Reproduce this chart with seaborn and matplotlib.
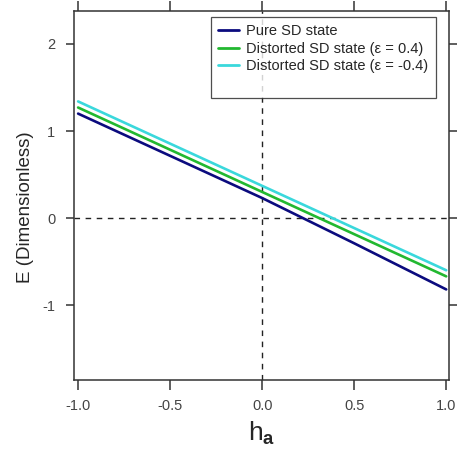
import numpy as np
import pandas as pd
import matplotlib
matplotlib.use("Agg")
import matplotlib.pyplot as plt
import seaborn as sns
from matplotlib.lines import Line2D

# Data
h_a = [-1.0, -0.5, 0.0, 0.5, 1.0]
pure = [1.20, 0.715, 0.23, -0.29, -0.82]
dist_pos = [1.27, 0.785, 0.30, -0.185, -0.67]
dist_neg = [1.34, 0.855, 0.37, -0.115, -0.60]
labels = ["Pure SD state", "Distorted SD state (ε = 0.4)", "Distorted SD state (ε = -0.4)"]
colors = ["#0b0b7e", "#22b830", "#3ad8dc"]
xticks = [-1.0, -0.5, 0.0, 0.5, 1.0]
yticks = [-1, 0, 1, 2]

df = pd.concat([
    pd.DataFrame({"h": h_a, "E": vals, "state": lab})
    for vals, lab in zip([pure, dist_pos, dist_neg], labels)
])

sns.set_style("white")
plt.rcParams["font.family"] = ["Liberation Sans", "DejaVu Sans"]
plt.rcParams["mathtext.fontset"] = "custom"
plt.rcParams["mathtext.rm"] = "Liberation Sans"
plt.rcParams["mathtext.bf"] = "Liberation Sans:bold"

fig = plt.figure(figsize=(4.6, 4.55), dpi=100)
ax = fig.add_axes([0.161, 0.165, 0.815, 0.811])

ax.axhline(0, color="#222222", lw=1.0, ls=(0, (4, 4)), zorder=1)
ax.axvline(0, color="#222222", lw=1.0, ls=(0, (4, 4)), zorder=1)

sns.lineplot(data=df, x="h", y="E", hue="state", palette=colors,
             linewidth=1.9, ax=ax, legend=False, zorder=3)

ax.set_xlim(-1.022, 1.015)
ax.set_ylim(-1.86, 2.38)
ax.set_xticks(xticks)
ax.set_xticklabels([f"{t:.1f}" for t in xticks])
ax.set_yticks(yticks)
ax.set_yticklabels([str(t) for t in yticks])

for s in ax.spines.values():
    s.set_color("#333333")
    s.set_linewidth(1.1)

ax.tick_params(axis="x", which="both", direction="out", length=7.5, width=1.1,
               color="#333333", top=True, bottom=True, labeltop=False,
               labelsize=10.5, labelcolor="#444444", pad=6)
ax.tick_params(axis="y", which="both", direction="out", length=5.5, width=1.1,
               color="#333333", left=True, right=True, labelright=False,
               labelsize=10.5, labelcolor="#444444", pad=8)

ax.set_xlabel(r"$\mathregular{h}_{\mathbf{a}}$", fontsize=19, labelpad=5)
ax.set_ylabel("E (Dimensionless)", fontsize=13.5)
ax.yaxis.set_label_coords(-0.106, 0.467)

handles = [Line2D([], [], color=c, lw=2.0) for c in colors]
handles.append(Line2D([], [], color="none"))
leg = ax.legend(handles, labels + [" "], loc="upper right",
                bbox_to_anchor=(0.965, 0.984), fontsize=10.5, frameon=True,
                fancybox=False, edgecolor="#222222", handlelength=1.45,
                handletextpad=0.5, borderpad=0.5, labelspacing=0.25,
                borderaxespad=0)
leg.get_frame().set_linewidth(0.9)

fig.savefig("out.png", dpi=100)
